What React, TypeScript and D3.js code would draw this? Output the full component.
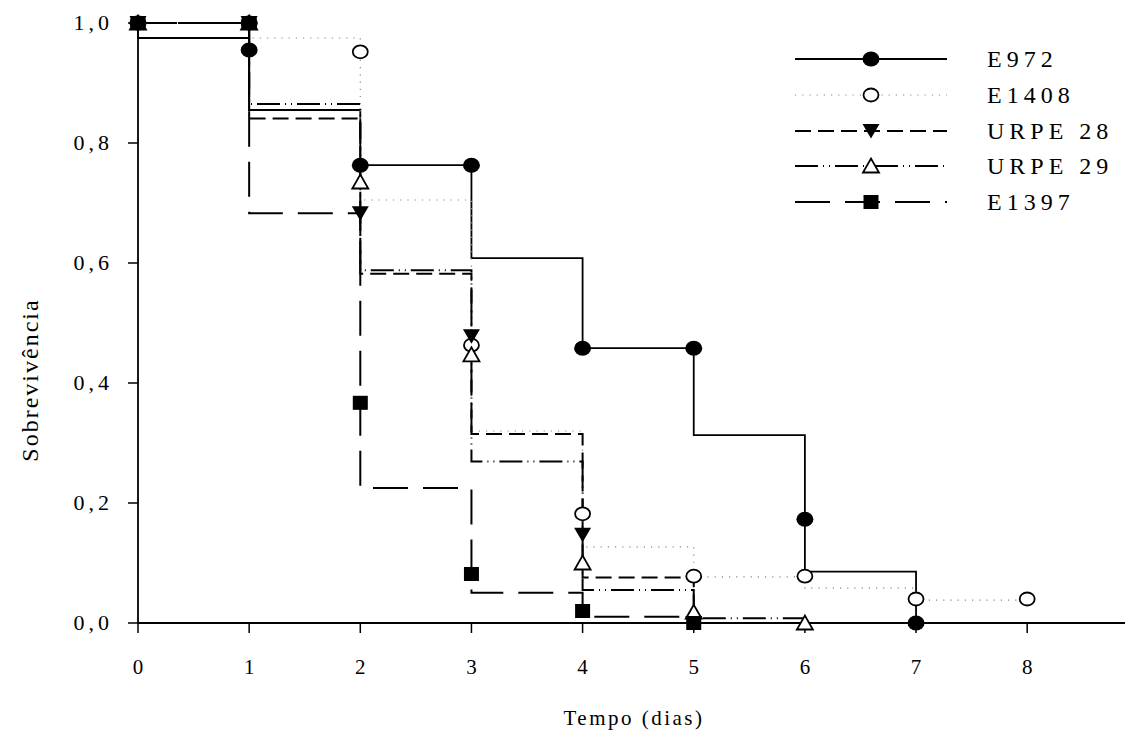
import React from "react";
import * as d3 from "d3";

// ---- data ----
const xTicks = [0, 1, 2, 3, 4, 5, 6, 7, 8];
const yTicks = [0, 0.2, 0.4, 0.6, 0.8, 1.0];
const yTickLabels = ["0,0", "0,2", "0,4", "0,6", "0,8", "1,0"];

// E972
const e972MarkX = [0, 1, 1, 2, 3, 4, 5, 6, 7];
const e972MarkY = [1, 1, 0.955, 0.763, 0.763, 0.458, 0.458, 0.173, 0];
const e972Steps = [0.975, 0.855, 0.763, 0.608, 0.458, 0.313, 0.0855];
const e972End = 0;

// E1408
const e1408MarkX = [0, 1, 2, 3, 4, 5, 6, 7, 8];
const e1408MarkY = [1, 1, 0.952, 0.463, 0.182, 0.078, 0.078, 0.04, 0.04];
const e1408Steps = [1.0, 0.975, 0.705, 0.32, 0.127, 0.077, 0.058, 0.038];
const e1408End: number | null = null;

// URPE 28
const u28MarkX = [0, 1, 2, 3, 4, 5];
const u28MarkY = [1, 1, 0.683, 0.478, 0.147, 0];
const u28Steps = [1.0, 0.841, 0.582, 0.315, 0.076];
const u28End = 0;

// URPE 29
const u29MarkX = [0, 1, 2, 3, 4, 5, 6];
const u29MarkY = [1, 1, 0.735, 0.447, 0.1, 0.018, 0];
const u29Steps = [1.0, 0.865, 0.588, 0.269, 0.055, 0.008];
const u29End = 0;

// E1397
const e1397MarkX = [0, 1, 2, 3, 4, 5];
const e1397MarkY = [1, 1, 0.367, 0.0817, 0.02, 0];
const e1397Steps = [1.0, 0.683, 0.225, 0.0505, 0.0105];
const e1397End = 0;

type Series = {
  name: string;
  mx: number[];
  my: number[];
  steps: number[];
  end: number | null;
  dash: string;
  stroke: string;
  width: number;
  marker: "fcircle" | "ocircle" | "ftridown" | "otriup" | "fsquare";
};

const series: Series[] = [
  { name: "E972", mx: e972MarkX, my: e972MarkY, steps: e972Steps, end: e972End, dash: "none", stroke: "#000", width: 1.8, marker: "fcircle" },
  { name: "E1408", mx: e1408MarkX, my: e1408MarkY, steps: e1408Steps, end: e1408End, dash: "1.2,6", stroke: "#888", width: 1.2, marker: "ocircle" },
  { name: "URPE 28", mx: u28MarkX, my: u28MarkY, steps: u28Steps, end: u28End, dash: "16,7", stroke: "#000", width: 2, marker: "ftridown" },
  { name: "URPE 29", mx: u29MarkX, my: u29MarkY, steps: u29Steps, end: u29End, dash: "23,5,1,5,1,5", stroke: "#000", width: 2, marker: "otriup" },
  { name: "E1397", mx: e1397MarkX, my: e1397MarkY, steps: e1397Steps, end: e1397End, dash: "35,15", stroke: "#000", width: 2, marker: "fsquare" },
];

const x = d3.scaleLinear().domain([0, 8.88]).range([138, 1125]);
const y = d3.scaleLinear().domain([0, 1]).range([623, 23]);

function stepPoints(s: Series): [number, number][] {
  const pts: [number, number][] = [[0, s.my[0]]];
  s.steps.forEach((v, i) => {
    pts.push([i, v]);
    pts.push([i + 1, v]);
  });
  if (s.end !== null) pts.push([s.steps.length, s.end]);
  return pts;
}

const line = d3
  .line<[number, number]>()
  .x((d) => x(d[0]))
  .y((d) => y(d[1]));

function Marker({ type, cx, cy }: { type: Series["marker"]; cx: number; cy: number }) {
  switch (type) {
    case "fcircle":
      return <ellipse cx={cx} cy={cy} rx={8.5} ry={7.5} fill="#000" />;
    case "ocircle":
      return <ellipse cx={cx} cy={cy} rx={7.5} ry={6.5} fill="#fff" stroke="#000" strokeWidth={1.8} />;
    case "ftridown":
      return <path d={`M${cx - 8.5},${cy - 7}L${cx + 8.5},${cy - 7}L${cx},${cy + 7.5}Z`} fill="#000" />;
    case "otriup":
      return (
        <path
          d={`M${cx - 8},${cy + 6.5}L${cx + 8},${cy + 6.5}L${cx},${cy - 7.5}Z`}
          fill="#fff"
          stroke="#000"
          strokeWidth={1.8}
        />
      );
    case "fsquare":
      return <rect x={cx - 7.5} y={cy - 7} width={15} height={14} fill="#000" />;
  }
}

const serif = "'Liberation Serif', 'Times New Roman', Times, serif";
const textStyle = { fontFamily: serif };

export default function App() {
  const legendY = [59, 95, 131, 166, 202];
  return (
    <svg width={1131} height={731} style={{ position: "absolute", left: 0, top: 0, background: "#fff" }}>
      <rect x={0} y={0} width={1131} height={731} fill="#fff" />
      {/* axes */}
      <line x1={138} x2={138} y1={y(1)} y2={623} stroke="#000" strokeWidth={1.8} />
      <line x1={138} x2={1125} y1={623} y2={623} stroke="#000" strokeWidth={1.8} />
      {yTicks.map((t, i) => (
        <g key={"yt" + i}>
          <line x1={128} x2={138} y1={y(t)} y2={y(t)} stroke="#000" strokeWidth={1.5} />
          <text
            x={113}
            y={y(t) + 7}
            textAnchor="end"
            style={textStyle}
            fontSize={22}
            letterSpacing={4}
            fill="#000"
          >
            {yTickLabels[i]}
          </text>
        </g>
      ))}
      {xTicks.map((t) => (
        <g key={"xt" + t}>
          <line x1={x(t)} x2={x(t)} y1={623} y2={633} stroke="#000" strokeWidth={1.5} />
          <text x={x(t)} y={674} textAnchor="middle" style={textStyle} fontSize={21} fill="#000">
            {t}
          </text>
        </g>
      ))}
      <text
        x={634}
        y={725}
        textAnchor="middle"
        style={textStyle}
        fontSize={21}
        letterSpacing={2.5}
        fill="#000"
      >
        Tempo (dias)
      </text>
      <text
        transform="translate(38,380) rotate(-90)"
        textAnchor="middle"
        style={textStyle}
        fontSize={24}
        letterSpacing={2}
        fill="#000"
      >
        Sobrevivência
      </text>

      {/* lines */}
      {series.map((s) => (
        <path
          key={"l" + s.name}
          d={line(stepPoints(s)) || ""}
          fill="none"
          stroke={s.stroke}
          strokeWidth={s.width}
          strokeDasharray={s.dash}
        />
      ))}
      {/* markers */}
      {series.map((s) => (
        <g key={"m" + s.name}>
          {s.mx.map((mx, i) => (
            <Marker key={i} type={s.marker} cx={x(mx)} cy={y(s.my[i])} />
          ))}
        </g>
      ))}

      {/* legend */}
      {series.map((s, i) => (
        <g key={"lg" + s.name}>
          <line
            x1={795}
            x2={947}
            y1={legendY[i]}
            y2={legendY[i]}
            stroke={s.stroke}
            strokeWidth={s.width}
            strokeDasharray={s.dash}
          />
          <Marker type={s.marker} cx={871} cy={legendY[i]} />
          <text
            x={987}
            y={legendY[i] + 8}
            style={textStyle}
            fontSize={24}
            letterSpacing={5}
            fill="#000"
          >
            {s.name}
          </text>
        </g>
      ))}
    </svg>
  );
}
